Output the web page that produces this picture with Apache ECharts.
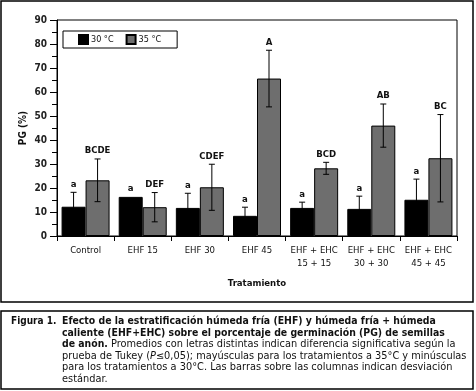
<!DOCTYPE html>
<html>
<head>
<meta charset="utf-8">
<script src="https://cdn.jsdelivr.net/npm/echarts@6/dist/echarts.min.js"></script>
<style>
  html, body { margin: 0; padding: 0; background: #fff; }
  #chart { width: 476px; height: 391px; }
</style>
</head>
<body>
<div id="chart"></div>
<script>
// values
const tratamientos = ['Control', 'EHF 15', 'EHF 30', 'EHF 45', 'EHF + EHC\n15 + 15', 'EHF + EHC\n30 + 30', 'EHF + EHC\n45 + 45'];
const pg30 = [12.2, 16.3, 11.7, 8.4, 11.7, 11.3, 15.1];
const sd30 = [6.0, 0, 6.1, 3.6, 2.4, 5.3, 8.6];
const pg35 = [23.2, 12.0, 20.3, 65.6, 28.2, 46.0, 32.4];
const sd35 = [8.9, 6.1, 9.6, 11.8, 2.5, 9.0, 18.2];
const letras30 = ['a', 'a', 'a', 'a', 'a', 'a', 'a'];
const letras35 = ['BCDE', 'DEF', 'CDEF', 'A', 'BCD', 'AB', 'BC'];

const FONT = "'DejaVu Sans Condensed', 'Liberation Sans', sans-serif";
const CAP_FONT = "'DejaVu Sans Condensed', 'DejaVu Sans', sans-serif";
const CAP_NORMAL = "'DejaVu Sans', sans-serif";
const BAR_W = 24;

const chart = echarts.init(document.getElementById('chart'));

// error bar + letter drawn through the axes
function errorBars(means, sds, letters, side) {
  return {
    type: 'custom',
    data: means.map((m, i) => [i, m, sds[i], letters[i]]),
    z: 5,
    silent: true,
    renderItem: (params, api) => {
      const i = api.value(0);
      const m = api.value(1);
      const sd = api.value(2);
      const base = api.coord([i, m]);
      const x = base[0] + side * BAR_W / 2;
      const top = api.coord([i, m + sd])[1];
      const bot = api.coord([i, m - sd])[1];
      const children = [];
      if (sd > 0) {
        const ls = { stroke: '#000', lineWidth: 1 };
        children.push(
          { type: 'line', shape: { x1: x, y1: top, x2: x, y2: bot }, style: ls },
          { type: 'line', shape: { x1: x - 3, y1: top, x2: x + 3, y2: top }, style: ls },
          { type: 'line', shape: { x1: x - 3, y1: bot, x2: x + 3, y2: bot }, style: ls }
        );
      }
      children.push({
        type: 'text',
        x: x, y: top - 3,
        style: {
          text: letters[i],
          fill: '#111',
          font: 'bold 9.5px ' + FONT,
          align: 'center',
          verticalAlign: 'bottom'
        }
      });
      return { type: 'group', children };
    }
  };
}

const option = {
  animation: false,
  textStyle: { fontFamily: FONT },
  grid: {
    left: 57, top: 20, right: 19, bottom: 155,
    show: true, borderColor: '#000', borderWidth: 1, backgroundColor: 'transparent'
  },
  legend: {
    left: 63, top: 31,
    orient: 'horizontal',
    padding: [3, 16, 3, 15],
    borderColor: '#000', borderWidth: 1,
    itemWidth: 9, itemHeight: 9, itemGap: 12,
    icon: 'rect',
    textStyle: { fontFamily: FONT, fontSize: 9, color: '#111', padding: [0, 0, 0, -2] },
    data: ['30 °C', '35 °C']
  },
  xAxis: {
    type: 'category',
    data: tratamientos,
    name: 'Tratamiento',
    nameLocation: 'middle',
    nameGap: 43,
    nameTextStyle: { fontFamily: FONT, fontSize: 9.5, fontWeight: 'bold', color: '#111' },
    axisLine: { lineStyle: { color: '#000', width: 1 } },
    axisTick: { show: true, length: 5, lineStyle: { color: '#000' } },
    axisLabel: { fontFamily: FONT, fontSize: 9.5, color: '#111', margin: 8, lineHeight: 13, interval: 0 }
  },
  yAxis: {
    type: 'value',
    min: 0, max: 90, interval: 10,
    name: 'PG (%)',
    nameLocation: 'middle',
    nameGap: 29,
    nameMoveOverlap: false,
    nameRotate: 90,
    nameTextStyle: { fontFamily: FONT, fontSize: 10, fontWeight: 'bold', color: '#111' },
    axisLine: { show: true, lineStyle: { color: '#000', width: 1 } },
    axisTick: { show: true, length: 7, lineStyle: { color: '#000' } },
    minorTick: { show: true, splitNumber: 2, length: 5, lineStyle: { color: '#000' } },
    splitLine: { show: false },
    axisLabel: { fontFamily: FONT, fontSize: 10, fontWeight: 'bold', color: '#222', margin: 10 }
  },
  series: [
    {
      name: '30 °C', type: 'bar', data: pg30,
      barWidth: BAR_W, barGap: '0%',
      itemStyle: { color: '#000', borderColor: '#000', borderWidth: 1 }
    },
    {
      name: '35 °C', type: 'bar', data: pg35,
      barWidth: BAR_W, barGap: '0%',
      itemStyle: { color: '#6e6e6e', borderColor: '#000', borderWidth: 1 }
    },
    errorBars(pg30, sd30, letras30, -1),
    errorBars(pg35, sd35, letras35, 1)
  ],
  graphic: [
    { type: 'rect', shape: { x: 1, y: 1, width: 472, height: 301 }, style: { fill: 'none', stroke: '#000', lineWidth: 1.5 }, z: -1 },
    { type: 'rect', shape: { x: 1, y: 311, width: 472, height: 78 }, style: { fill: 'none', stroke: '#000', lineWidth: 1.5 } },
    {
      type: 'text', left: 11, top: 316,
      style: { text: 'Figura 1.', font: 'bold 10px ' + CAP_FONT, fill: '#111', lineHeight: 11.5 }
    },
    {
      type: 'text', left: 62, top: 316,
      style: {
        text: [
          '{b|Efecto de la estratificación húmeda fría (EHF) y húmeda fría + húmeda}',
          '{b|caliente (EHF+EHC) sobre el porcentaje de germinación (PG) de semillas}',
          '{b|de anón.}{n| Promedios con letras distintas indican diferencia significativa según la}',
          '{n|prueba de Tukey (}{i|P}{n|≤0,05); mayúsculas para los tratamientos a 35°C y minúsculas}',
          '{n|para los tratamientos a 30°C. Las barras sobre las columnas indican desviación}',
          '{n|estándar.}'
        ].join('\n'),
        fill: '#111',
        font: '9.8px ' + CAP_NORMAL,
        lineHeight: 11.5,
        rich: {
          b: { fontFamily: CAP_FONT, fontSize: 10.4, fontWeight: 'bold', lineHeight: 11.5, fill: '#111' },
          n: { fontFamily: CAP_NORMAL, fontSize: 9.8, lineHeight: 11.5, fill: '#111' },
          i: { fontFamily: CAP_NORMAL, fontSize: 9.8, fontStyle: 'italic', lineHeight: 11.5, fill: '#111' }
        }
      }
    }
  ]
};

chart.setOption(option);
</script>
</body>
</html>
